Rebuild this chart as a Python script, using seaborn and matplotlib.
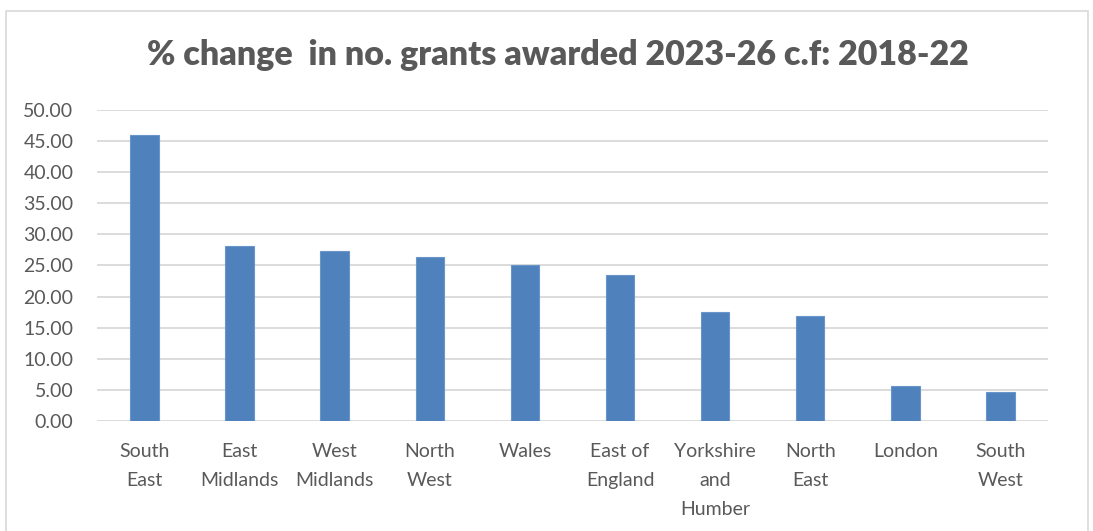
import matplotlib
matplotlib.use("Agg")
import matplotlib.pyplot as plt
import pandas as pd
import seaborn as sns
from matplotlib.patches import Rectangle

regions = ["South\nEast", "East\nMidlands", "West\nMidlands", "North\nWest", "Wales",
           "East of\nEngland", "Yorkshire\nand\nHumber", "North\nEast", "London", "South\nWest"]
pct_change = [45.9, 28.1, 27.4, 26.3, 25.05, 23.4, 17.6, 16.95, 5.58, 4.72]
y_ticks = [0, 5, 10, 15, 20, 25, 30, 35, 40, 45, 50]

df = pd.DataFrame({"region": regions, "pct": pct_change})

sns.set_style("white")
plt.rcParams["font.family"] = ["Lato", "DejaVu Sans"]
text_col = "#595959"

fig = plt.figure(figsize=(10.93, 5.31), dpi=100)
ax = fig.add_axes([0.0887, 0.2072, 0.8701, 0.5857])

sns.barplot(data=df, x="region", y="pct", color="#4f81bd", saturation=1,
            width=0.3, ax=ax, zorder=3)
for p in ax.patches:
    p.set_edgecolor("#6a95c9")
    p.set_linewidth(0.8)

ax.set_xlim(-0.5, len(regions) - 0.5)
ax.set_ylim(0, 50)
ax.set_yticks(y_ticks)
ax.set_yticklabels([f"{v:.2f}" for v in y_ticks])
ax.yaxis.grid(True, color="#d9d9d9", linewidth=1.3, zorder=0)
ax.set_axisbelow(True)
for s in ax.spines.values():
    s.set_visible(False)
ax.set_xlabel("")
ax.set_ylabel("")
ax.tick_params(axis="y", length=0, pad=17, labelsize=14, labelcolor=text_col)
ax.tick_params(axis="x", length=0, pad=16, labelsize=14, labelcolor=text_col)
for lbl in ax.get_xticklabels():
    lbl.set_linespacing(1.85)
    lbl.set_verticalalignment("top")

fig.text(0.51, 0.896, "% change  in no. grants awarded 2023-26 c.f: 2018-22",
         ha="center", va="center", fontsize=24.5, fontweight="heavy", color=text_col)

fig.patches.append(Rectangle((6 / 1093, -0.05), 1082 / 1093, 1 - 11 / 531 + 0.05,
                             transform=fig.transFigure, fill=False,
                             edgecolor="#d9d9d9", linewidth=1.2))

fig.savefig("out.png", dpi=100)
